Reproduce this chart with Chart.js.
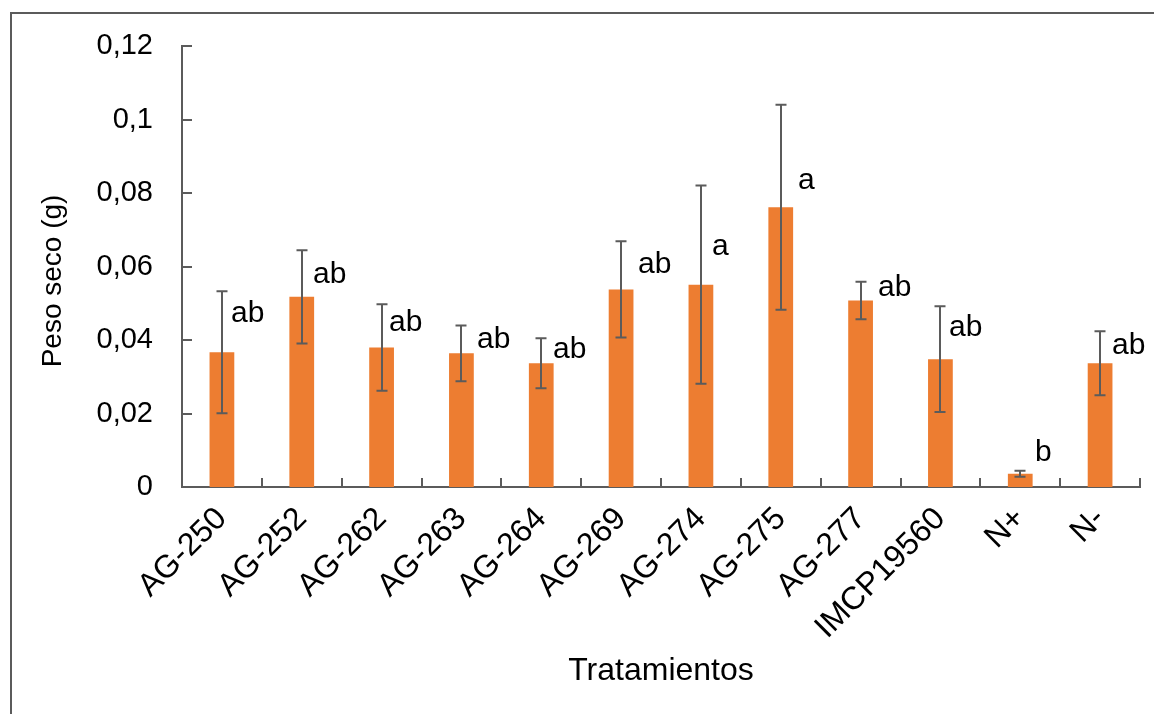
<!DOCTYPE html>
<html>
<head>
<meta charset="utf-8">
<script src="https://cdn.jsdelivr.net/npm/chart.js@4.4.1/dist/chart.umd.min.js"></script>
<style>
  html, body { margin: 0; padding: 0; background: #ffffff; }
  #wrap { width: 1154px; height: 714px; position: relative; }
</style>
</head>
<body>
<div id="wrap"><canvas id="chart"></canvas></div>
<script>
// Dry weight per treatment (mean and standard error, grams)
const categories = ['AG-250', 'AG-252', 'AG-262', 'AG-263', 'AG-264', 'AG-269', 'AG-274', 'AG-275', 'AG-277', 'IMCP19560', 'N+', 'N-'];
const meanDryWeight = [0.0367, 0.0518, 0.0380, 0.0364, 0.0337, 0.0538, 0.0551, 0.0762, 0.0508, 0.0348, 0.0036, 0.0337];
const errDryWeight = [0.0166, 0.0127, 0.0118, 0.0076, 0.0068, 0.0131, 0.0270, 0.0279, 0.0051, 0.0144, 0.0008, 0.0087];
// Significance groups
const groupLetters = ['ab', 'ab', 'ab', 'ab', 'ab', 'ab', 'a', 'a', 'ab', 'ab', 'b', 'ab'];
const yTickLabels = ['0', '0,02', '0,04', '0,06', '0,08', '0,1', '0,12'];

const FONT = "'Liberation Sans', Arial, sans-serif";
const AXIS_GREY = '#5b5b5b';
const BAR_ORANGE = '#ED7D31';

// Placement of the group letters next to each error bar (pixels)
const letterOffsetX = [9, 11, 7, 16, 12, 17, 11, 17, 17, 9, 15, 12];
const letterOffsetY = [22, 25, 19, 14, 11, 23, 61, 76, 6, 21, -18, 14];

const decorPlugin = {
  id: 'decor',
  beforeDraw(chart) {
    const ctx = chart.ctx;
    ctx.save();
    ctx.strokeStyle = AXIS_GREY;
    ctx.lineWidth = 2;
    ctx.strokeRect(11, 13, 1400, 900);
    ctx.restore();
  },
  afterDraw(chart) {
    const ctx = chart.ctx;
    const area = chart.chartArea;
    const x = chart.scales.x;
    const y = chart.scales.y;
    ctx.save();
    ctx.strokeStyle = AXIS_GREY;
    ctx.lineWidth = 2;
    // inward ticks on the value axis
    y.ticks.forEach(t => {
      const py = Math.round(y.getPixelForValue(t.value));
      ctx.beginPath();
      ctx.moveTo(area.left, py);
      ctx.lineTo(area.left + 10, py);
      ctx.stroke();
    });
    // inward ticks between categories and at the right end
    for (let i = 0; i < categories.length; i++) {
      const px = i < categories.length - 1
        ? (x.getPixelForValue(i) + x.getPixelForValue(i + 1)) / 2
        : area.right;
      ctx.beginPath();
      ctx.moveTo(Math.round(px), area.bottom);
      ctx.lineTo(Math.round(px), area.bottom - 9);
      ctx.stroke();
    }
    // axis titles
    ctx.fillStyle = '#000000';
    ctx.font = '32px ' + FONT;
    ctx.textAlign = 'center';
    ctx.textBaseline = 'middle';
    ctx.fillText('Tratamientos', (area.left + area.right) / 2, 671);
    ctx.translate(53, 281);
    ctx.rotate(-Math.PI / 2);
    ctx.font = '28px ' + FONT;
    ctx.fillText('Peso seco (g)', 0, 0);
    ctx.restore();
  },
  afterDatasetsDraw(chart) {
    const ctx = chart.ctx;
    const x = chart.scales.x;
    const y = chart.scales.y;
    ctx.save();
    ctx.strokeStyle = AXIS_GREY;
    ctx.lineWidth = 2;
    meanDryWeight.forEach((m, i) => {
      const px = Math.round(x.getPixelForValue(i));
      const top = y.getPixelForValue(m + errDryWeight[i]);
      const bot = y.getPixelForValue(m - errDryWeight[i]);
      ctx.beginPath();
      ctx.moveTo(px, top); ctx.lineTo(px, bot);
      ctx.moveTo(px - 5.5, top); ctx.lineTo(px + 5.5, top);
      ctx.moveTo(px - 5.5, bot); ctx.lineTo(px + 5.5, bot);
      ctx.stroke();
      ctx.fillStyle = '#000000';
      ctx.font = '30px ' + FONT;
      ctx.textAlign = 'left';
      ctx.textBaseline = 'middle';
      ctx.fillText(groupLetters[i], px + letterOffsetX[i], top + letterOffsetY[i]);
    });
    ctx.restore();
  }
};

new Chart(document.getElementById('chart'), {
  type: 'bar',
  data: {
    labels: categories,
    datasets: [{
      data: meanDryWeight,
      backgroundColor: BAR_ORANGE,
      borderWidth: 0,
      categoryPercentage: 1.0,
      barPercentage: 0.31
    }]
  },
  options: {
    responsive: true,
    maintainAspectRatio: false,
    animation: false,
    events: [],
    layout: { padding: { left: 0, right: 14, top: 43, bottom: 0 } },
    plugins: { legend: { display: false }, tooltip: { enabled: false } },
    scales: {
      x: {
        grid: { display: false },
        border: { display: true, color: AXIS_GREY, width: 2 },
        ticks: {
          color: '#000000',
          font: { family: FONT, size: 32 },
          minRotation: 45,
          maxRotation: 45,
          padding: 5,
          autoSkip: false
        },
        afterFit(scale) { scale.height = 714 - 487; }
      },
      y: {
        min: 0,
        max: 0.12,
        grid: { display: false, drawTicks: false },
        border: { display: true, color: AXIS_GREY, width: 2 },
        ticks: {
          stepSize: 0.02,
          color: '#000000',
          font: { family: FONT, size: 29 },
          padding: 29,
          callback: (v, i) => yTickLabels[i]
        },
        afterFit(scale) { scale.width = 182; }
      }
    }
  },
  plugins: [decorPlugin]
});
</script>
</body>
</html>
